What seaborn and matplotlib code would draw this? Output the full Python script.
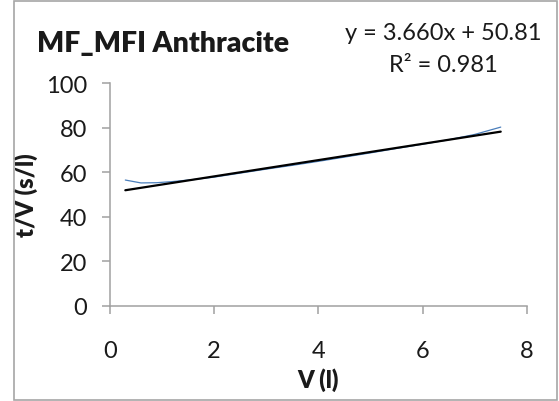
import matplotlib
matplotlib.use("Agg")
import matplotlib.pyplot as plt
import seaborn as sns
import pandas as pd
from matplotlib.patches import Rectangle

# Filtration data: filtrate volume V (l) vs. t/V (s/l)
volume = [0.3, 0.6, 0.9, 1.2, 1.6, 2.0, 2.5, 3.0, 3.5, 4.0, 4.5, 5.0, 5.5, 6.0, 6.5, 7.0, 7.5]
t_over_v = [56.5, 55.2, 55.3, 55.8, 56.7, 57.8, 59.6, 61.4, 63.1, 64.9, 66.8, 68.7, 70.7, 72.6, 74.6, 77.0, 80.3]

# Linear trendline
slope = 3.660
intercept = 50.81
r_squared = 0.981

title = "MF_MFI Anthracite"
x_label = "V (l)"
y_label = "t/V (s/l)"
x_ticks = [0, 2, 4, 6, 8]
y_ticks = [0, 20, 40, 60, 80, 100]

sns.set_theme(style="white")
plt.rcParams["font.family"] = ["Lato", "DejaVu Sans"]

df = pd.DataFrame({"V": volume, "tV": t_over_v})
trend = pd.DataFrame({"V": [volume[0], volume[-1]]})
trend["tV"] = slope * trend["V"] + intercept

fig = plt.figure(figsize=(5.59, 4.02), dpi=100)
ax = fig.add_axes([0.1962, 0.2371, 0.9424 - 0.1962, 0.7903 - 0.2371])

sns.lineplot(data=df, x="V", y="tV", ax=ax, color="#4a7ebb", linewidth=0.9, sort=False)
sns.lineplot(data=trend, x="V", y="tV", ax=ax, color="black", linewidth=1.6)

ax.set_xlim(0, 8)
ax.set_ylim(0, 100)
ax.set_xticks(x_ticks)
ax.set_yticks(y_ticks)
ax.set_xticklabels([str(t) for t in x_ticks])
ax.set_yticklabels([str(t) for t in y_ticks])

axis_grey = "#a0a0a0"
for side in ("top", "right"):
    ax.spines[side].set_visible(False)
for side in ("left", "bottom"):
    ax.spines[side].set_color(axis_grey)
    ax.spines[side].set_linewidth(1.1)
ax.tick_params(axis="both", which="major", direction="out", length=6, width=1.1,
               color=axis_grey, labelsize=17, labelcolor="#1a1a1a")
ax.tick_params(axis="y", pad=10)
ax.tick_params(axis="x", pad=19)
ax.tick_params(axis="x", bottom=True)
ax.tick_params(axis="y", left=True)

ax.set_xlabel(x_label, fontsize=17, fontweight="heavy", color="#1a1a1a", labelpad=4)
ax.set_ylabel(y_label, fontsize=17, fontweight="heavy", color="#1a1a1a", labelpad=6)

fig.text(37 / 559, 1 - 44 / 402, title, fontsize=20.4, fontweight="heavy",
         color="#1a1a1a", ha="left", va="center")
fig.text(443 / 559, 1 - 33 / 402, f"y = {slope:.3f}x + {intercept:.2f}",
         fontsize=17, color="#1a1a1a", ha="center", va="center")
fig.text(443 / 559, 1 - 66 / 402, f"R² = {r_squared:.3f}",
         fontsize=17, color="#1a1a1a", ha="center", va="center")

# Chart-area frame
fig.patches.append(Rectangle((14 / 559, 1 / 402), (557 - 14) / 559, (400 - 1) / 402,
                             transform=fig.transFigure, fill=False,
                             edgecolor="#a6a6a6", linewidth=1.2))

fig.savefig("out.png", dpi=100)
